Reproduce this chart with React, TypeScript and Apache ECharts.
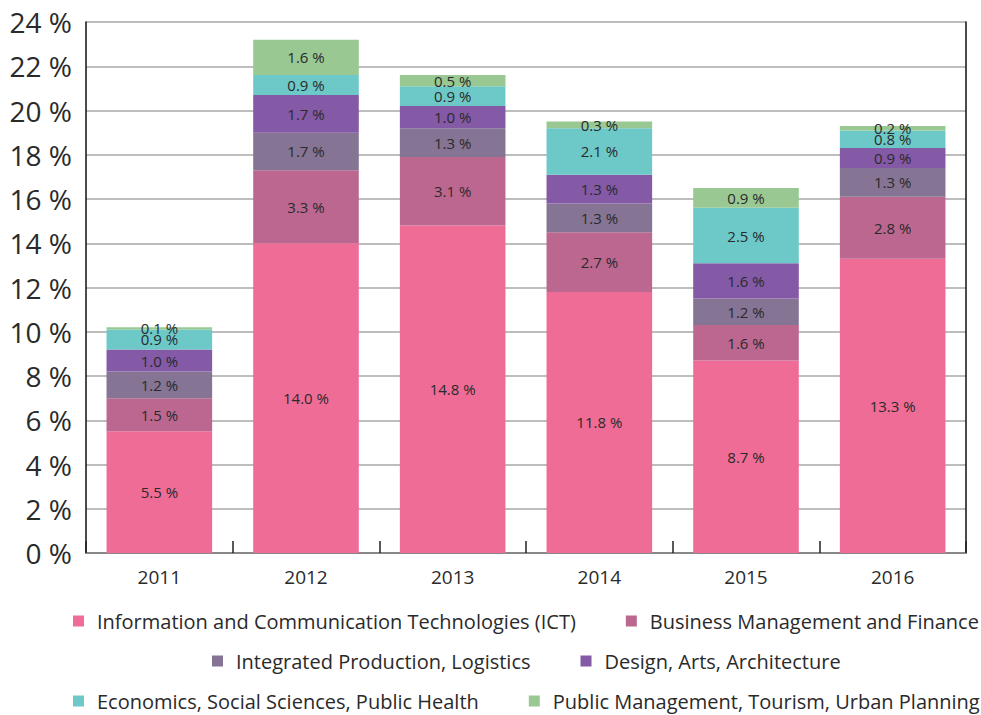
import React, { useEffect, useRef } from "react";
import * as echarts from "echarts";

const years = ["2011", "2012", "2013", "2014", "2015", "2016"];
const seriesNames = [
  "Information and Communication Technologies (ICT)",
  "Business Management and Finance",
  "Integrated Production, Logistics",
  "Design, Arts, Architecture",
  "Economics, Social Sciences, Public Health",
  "Public Management, Tourism, Urban Planning",
];
const ict = [5.5, 14.0, 14.8, 11.8, 8.7, 13.3];
const business = [1.5, 3.3, 3.1, 2.7, 1.6, 2.8];
const production = [1.2, 1.7, 1.3, 1.3, 1.2, 1.3];
const design = [1.0, 1.7, 1.0, 1.3, 1.6, 0.9];
const economics = [0.9, 0.9, 0.9, 2.1, 2.5, 0.8];
const publicMgmt = [0.1, 1.6, 0.5, 0.3, 0.9, 0.2];
const yTicks = { min: 0, max: 24, interval: 2 };

const colors = ["#EF6C96", "#BC6790", "#857493", "#8459A6", "#6DC9C7", "#99C893"];
const FONT = "Open Sans";

const LEG_FONT = 20;
const ICON_W = 11;
const TEXT_PAD = 8;
const ITEM_GAP = 50;
const LEG_CENTER = 526;

function measure(text: string, size: number) {
  const c = document.createElement("canvas");
  const ctx = c.getContext("2d");
  if (!ctx) return text.length * size * 0.5;
  ctx.font = `${size}px "${FONT}"`;
  return ctx.measureText(text).width;
}

export default function App() {
  const ref = useRef<HTMLDivElement>(null);
  useEffect(() => {
    if (!ref.current) return;
    const chart = echarts.init(ref.current, undefined, { renderer: "svg" });
    const allData = [ict, business, production, design, economics, publicMgmt];
    const series = allData.map((d, i) => ({
      name: seriesNames[i],
      type: "bar",
      stack: "total",
      data: d,
      barWidth: "72%",
      itemStyle: { color: colors[i] },
      label: {
        show: true,
        position: "inside",
        color: "#2a2a2a",
        fontFamily: FONT,
        fontSize: 15,
        formatter: (p: any) => `${Number(p.value).toFixed(1)} %`,
      },
    }));
    const legendRows = [
      [seriesNames[0], seriesNames[1]],
      [seriesNames[2], seriesNames[3]],
      [seriesNames[4], seriesNames[5]],
    ];
    const legendTops = [611, 651, 691];
    const legends = legendRows.map((row, i) => {
      const widths = row.map((n) => ICON_W + 5 + TEXT_PAD + measure(n, LEG_FONT));
      const total = widths.reduce((a, b) => a + b, 0) + ITEM_GAP * (row.length - 1);
      return {
        data: row,
        top: legendTops[i],
        left: Math.round(LEG_CENTER - total / 2),
        padding: 0,
        icon: "rect",
        itemWidth: ICON_W,
        itemHeight: ICON_W,
        itemGap: ITEM_GAP,
        textStyle: {
          fontFamily: FONT,
          fontSize: LEG_FONT,
          color: "#2a2a2a",
          padding: [0, 0, 0, TEXT_PAD],
        },
        selectedMode: false,
      };
    });
    chart.setOption({
      animation: false,
      color: colors,
      grid: { left: 86, right: 15, top: 22, bottom: 162, containLabel: false },
      legend: legends,
      xAxis: {
        type: "category",
        data: years,
        axisLine: { lineStyle: { color: "#888", width: 2 } },
        axisTick: { show: true, inside: true, length: 12, lineStyle: { color: "#222", width: 1.5 } },
        axisLabel: { fontFamily: FONT, fontSize: 19, color: "#2a2a2a", margin: 14 },
      },
      yAxis: [
        {
          type: "value",
          min: yTicks.min,
          max: yTicks.max,
          interval: yTicks.interval,
          axisLine: { show: true, lineStyle: { color: "#111", width: 1.5 } },
          axisTick: { show: false },
          axisLabel: {
            fontFamily: FONT,
            fontSize: 28,
            color: "#2a2a2a",
            margin: 14,
            formatter: (v: number) => `${v} %`,
          },
          splitLine: { show: true, lineStyle: { color: "#bdbdbd", width: 2 } },
        },
        {
          type: "value",
          position: "right",
          min: yTicks.min,
          max: yTicks.max,
          interval: yTicks.interval,
          axisLine: { show: true, lineStyle: { color: "#111", width: 1.5 } },
          axisTick: { show: false },
          axisLabel: { show: false },
          splitLine: { show: false },
        },
      ],
      series,
    });
    return () => chart.dispose();
  }, []);
  return (
    <div
      ref={ref}
      style={{ position: "absolute", left: 0, top: 0, width: 981, height: 715 }}
    />
  );
}
